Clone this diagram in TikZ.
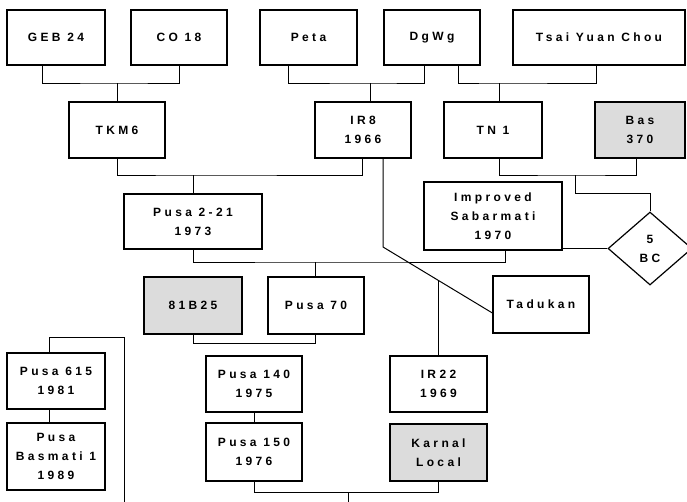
\documentclass[tikz,border=0pt]{standalone}
\usepackage{fontspec}
\newfontfamily\pedfont[LetterSpace=28]{Liberation Sans}
\usetikzlibrary{shapes.geometric}
\definecolor{pedGrey}{RGB}{220,220,220}

\begin{document}
\begin{tikzpicture}[x=1pt, y=-1pt,
    pedBox/.style={rectangle, draw=black, line width=1.2pt, fill=white, align=center, inner sep=0pt,
        font=\pedfont\bfseries\fontsize{12}{19}\selectfont},
    pedGreyBox/.style={pedBox, fill=pedGrey},
    pedCross/.style={pedBox, diamond, minimum width=84pt, minimum height=73pt},
    pedLine/.style={line width=1pt, draw=black}
]
\useasboundingbox (0,0) rectangle (687,501);

% top row of parents
\node[pedBox, minimum width=98pt, minimum height=55pt] (geb) at (56,37.5) {GEB 24};
\node[pedBox, minimum width=96pt, minimum height=55pt] (co) at (179,37.5) {CO 18};
\node[pedBox, minimum width=97pt, minimum height=55pt] (peta) at (308.5,37.5) {Peta};
\node[pedBox, minimum width=96pt, minimum height=55pt] (dgwg) at (432,37.5) {DgWg};
\node[pedBox, minimum width=172pt, minimum height=55pt] (tsai) at (599,37.5) {Tsai Yuan Chou};

% second row
\node[pedBox, minimum width=96pt, minimum height=56pt] (tkm) at (117,130) {TKM6};
\node[pedBox, minimum width=96pt, minimum height=56pt] (ir8) at (363,130) {IR8\\1966};
\node[pedBox, minimum width=98pt, minimum height=56pt] (tn1) at (493,130) {TN 1};
\node[pedGreyBox, minimum width=90pt, minimum height=56pt] (bas) at (640,130) {Bas\\370};

% third row
\node[pedBox, minimum width=138pt, minimum height=55pt] (pusa221) at (193,221.5) {Pusa 2-21\\1973};
\node[pedBox, minimum width=138pt, minimum height=68pt] (impsab) at (493,216) {Improved\\Sabarmati\\1970};
\node[pedCross] (bc) at (650,248.5) {5\\BC};

% fourth row
\node[pedGreyBox, minimum width=98pt, minimum height=57pt] (b81) at (193,305.5) {81B25};
\node[pedBox, minimum width=96pt, minimum height=57pt] (pusa70) at (316,305.5) {Pusa 70};
\node[pedBox, minimum width=96pt, minimum height=57pt] (tadukan) at (541,304.5) {Tadukan};

% lower rows
\node[pedBox, minimum width=98pt, minimum height=56pt] (pusa615) at (56,381) {Pusa 615\\1981};
\node[pedBox, minimum width=98pt, minimum height=67pt] (pusabas) at (56,456.5) {Pusa\\Basmati 1\\1989};
\node[pedBox, minimum width=96pt, minimum height=56pt] (pusa140) at (254,384) {Pusa 140\\1975};
\node[pedBox, minimum width=96pt, minimum height=58pt] (pusa150) at (254,452) {Pusa 150\\1976};
\node[pedBox, minimum width=97pt, minimum height=56pt] (ir22) at (438.5,384) {IR22\\1969};
\node[pedGreyBox, minimum width=97pt, minimum height=57pt] (karnal) at (438.5,452.5) {Karnal\\Local};

% junctions
\coordinate (j1) at (117,83);
\coordinate (j2) at (370,83);
\coordinate (j3) at (499,83);
\coordinate (j4) at (193,175);
\coordinate (j6) at (575,175);
\coordinate (j8) at (315,262);
\coordinate (j11) at (348,492);
\coordinate (ir8bend) at (383,247);
\coordinate (leftTop) at (124,337);
\coordinate (leftEnd) at (124,503);
\coordinate (bottomEnd) at (348,503);

% crosses
\draw[pedLine] ([xshift=-14pt]geb.south) |- (j1) -| (co.south);
\draw[pedLine] (j1) -- (tkm.north);
\draw[pedLine] ([xshift=-20.5pt]peta.south) |- (j2) -| ([xshift=-8pt]dgwg.south);
\draw[pedLine] (j2) -- (j2 |- ir8.north);
\draw[pedLine] ([xshift=26pt]dgwg.south) |- (j3) -| ([xshift=-3pt]tsai.south);
\draw[pedLine] (j3) -- (j3 |- tn1.north);
\draw[pedLine] (tkm.south) |- (j4) -| ([xshift=-1pt]ir8.south);
\draw[pedLine] (j4) -- (pusa221.north);
\draw[pedLine] ([xshift=20pt]ir8.south) -- (ir8bend) -- ([yshift=-8.5pt]tadukan.west)
    coordinate[pos=0.509] (j5);
\draw[pedLine] (ir22.north) -- (ir22.north |- j5);
\draw[pedLine] ([xshift=6pt]tn1.south) |- (j6) -| ([xshift=-4pt]bas.south);
\draw[pedLine] (j6) -- ++(0,18) -| (bc.north);
\draw[pedLine] (bc.west) -- (bc.west -| impsab.east);
\draw[pedLine] (pusa221.south) |- (j8) -| ([xshift=12pt]impsab.south);
\draw[pedLine] (j8) -- (j8 |- pusa70.north);
\draw[pedLine] (b81.south) -- ++(0,9) -| ([xshift=-1pt]pusa70.south);
\draw[pedLine] (pusa140.south) -- (pusa150.north);
\draw[pedLine] (pusa150.south) |- (j11) -| (karnal.south);
\draw[pedLine] (j11) -- (bottomEnd);
\draw[pedLine] ([xshift=-7pt]pusa615.south) -- ([xshift=-7pt]pusabas.north);
\draw[pedLine] ([xshift=-7pt]pusa615.north) |- (leftTop) -- (leftEnd);
\end{tikzpicture}
\end{document}
